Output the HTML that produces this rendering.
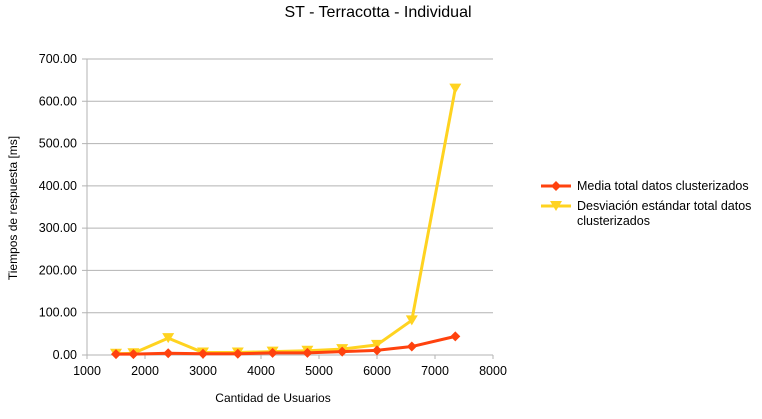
<!DOCTYPE html>
<html><head><meta charset="utf-8"><style>
body{margin:0;background:#fff;font-family:"Liberation Sans",sans-serif;}
</style></head><body>
<svg width="762" height="414" xmlns="http://www.w3.org/2000/svg" font-family="Liberation Sans, sans-serif">
<text x="378" y="17" text-anchor="middle" font-size="16" fill="#000">ST - Terracotta - Individual</text>
<g id="grid"></g><g id="axes"></g><g id="series"></g>
<text transform="translate(17,208) rotate(-90)" text-anchor="middle" font-size="12">Tiempos de respuesta [ms]</text>
<text x="273" y="402" text-anchor="middle" font-size="12">Cantidad de Usuarios</text>
<g>
<line x1="541" y1="186" x2="571" y2="186" stroke="#ff420e" stroke-width="3"/>
<path d="M556 181 L561 186 L556 191 L551 186Z" fill="#ff420e"/>
<text x="577" y="190" font-size="12.5">Media total datos clusterizados</text>
<line x1="541" y1="206" x2="571" y2="206" stroke="#ffd320" stroke-width="3"/>
<path d="M550 201 L562 201 L556 211Z" fill="#ffd320"/>
<text x="577" y="210" font-size="12.5">Desviación estándar total datos</text>
<text x="577" y="225" font-size="12.5">clusterizados</text>
</g>
</svg>
<script>
const xVals=[1500,1800,2400,3000,3600,4200,4800,5400,6000,6600,7350];
const meanVals=[2,2,4,3,3,5,5,8,11,20,44];
const stdVals=[3,4,40,6,6,8,10,14,24,82,630];
const yTicks=[0,100,200,300,400,500,600,700];
const xTicks=[1000,2000,3000,4000,5000,6000,7000,8000];
const NS="http://www.w3.org/2000/svg";
const X=v=>87+(v-1000)*(493-87)/7000;
const Y=v=>355-v*(355-59)/700;
function mk(t,a,p){const e=document.createElementNS(NS,t);for(const k in a)e.setAttribute(k,a[k]);p.appendChild(e);return e;}
const grid=document.getElementById('grid'),axes=document.getElementById('axes'),ser=document.getElementById('series');
yTicks.forEach(t=>{
 const l=mk('line',{x1:82,x2:493,y1:Y(t),y2:Y(t),stroke:'#b3b3b3'},grid);
 
 
 const tx=mk('text',{x:77,y:Y(t)+4,'text-anchor':'end','font-size':12.5},axes);
 tx.textContent=t.toFixed(2);
 
 
});
mk('line',{x1:87,x2:87,y1:59,y2:359,stroke:'#b3b3b3'},axes);
xTicks.forEach(t=>{
 mk('line',{x1:X(t),x2:X(t),y1:355,y2:359,stroke:'#b3b3b3'},axes);
 const tx=mk('text',{x:X(t),y:375,'text-anchor':'middle','font-size':12.5},axes);
 tx.textContent=t;
 
 
});
function series(vals,color,name,marker){
 const pts=xVals.map((x,i)=>X(x)+','+Y(vals[i])).join(' ');
 const pl=mk('polyline',{points:pts,fill:'none',stroke:color,'stroke-width':3,'stroke-linejoin':'round'},ser);
 
 
 xVals.forEach((x,i)=>{
  const cx=X(x),cy=Y(vals[i]);
  const d=marker==='d'?`M${cx} ${cy-5} L${cx+5} ${cy} L${cx} ${cy+5} L${cx-5} ${cy}Z`:`M${cx-6} ${cy-5} L${cx+6} ${cy-5} L${cx} ${cy+5}Z`;
  const p=mk('path',{d:d,fill:color},ser);
  
  
 });
}
series(stdVals,'#ffd320','desviacion','t');
series(meanVals,'#ff420e','media','d');
</script>
</body></html>
